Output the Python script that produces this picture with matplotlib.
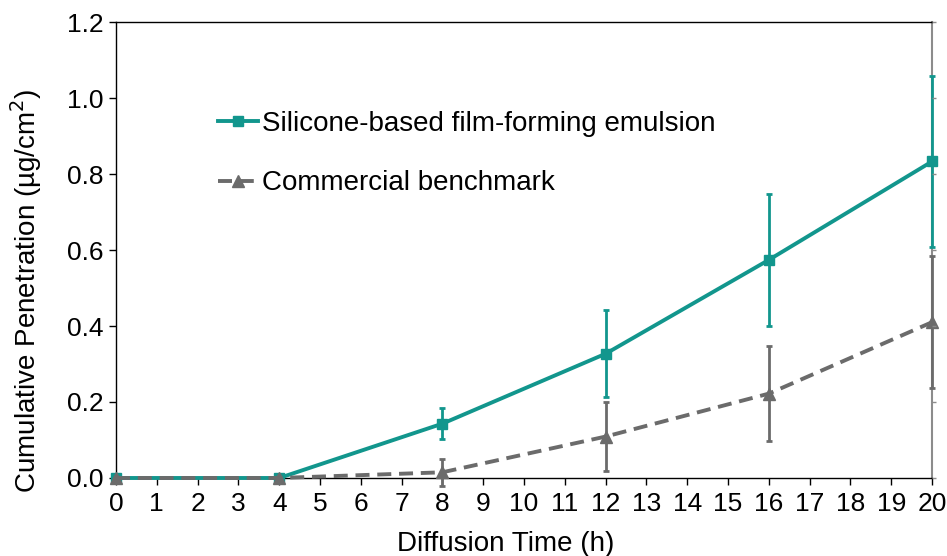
import matplotlib
matplotlib.use("Agg")
import matplotlib.pyplot as plt
from matplotlib.lines import Line2D

plt.rcParams['font.family'] = ['Liberation Sans', 'DejaVu Sans']

# Diffusion time points (h)
time_h = [0, 4, 8, 12, 16, 20]

# Cumulative penetration (µg/cm²) and standard deviations
silicone_mean = [0.0, 0.0, 0.143, 0.327, 0.574, 0.833]
silicone_err = [0.0, 0.0, 0.040, 0.115, 0.174, 0.226]
benchmark_mean = [0.0, 0.0, 0.015, 0.109, 0.222, 0.410]
benchmark_err = [0.0, 0.0, 0.035, 0.090, 0.125, 0.174]

series_labels = ["Silicone-based film-forming emulsion", "Commercial benchmark"]
x_ticks = list(range(0, 21))
y_ticks = [0.0, 0.2, 0.4, 0.6, 0.8, 1.0, 1.2]

teal = "#12968D"
grey = "#6B6B6B"
dash = (0, (3.6, 2.0))

fig = plt.figure(figsize=(9.47, 5.56), dpi=100)
ax = fig.add_axes([0.1225, 0.1403, 0.8617, 0.8201])

ax.errorbar(time_h, silicone_mean, yerr=silicone_err, color=teal, ecolor=teal,
            linestyle="-", linewidth=2.8, marker="s", markersize=7.5,
            elinewidth=2.0, capsize=2.5, capthick=2.0, clip_on=False, zorder=3)
ax.errorbar(time_h, benchmark_mean, yerr=benchmark_err, color=grey, ecolor=grey,
            linestyle=dash, linewidth=2.8, marker="^", markersize=8,
            elinewidth=2.0, capsize=2.5, capthick=2.0, clip_on=False, zorder=4)

ax.set_xlim(0, 20)
ax.set_ylim(0, 1.2)
ax.set_xticks(x_ticks)
ax.set_yticks(y_ticks)
ax.set_yticklabels([f"{v:.1f}" for v in y_ticks])
ax.tick_params(axis="both", labelsize=19, direction="out", length=5, width=1,
               color="black", labelcolor="black")
ax.tick_params(axis="x", pad=5)
ax.tick_params(axis="y", pad=4)

for side in ["left", "bottom", "top"]:
    ax.spines[side].set_color("black")
    ax.spines[side].set_linewidth(1.0)
ax.spines["right"].set_color("#8C8C8C")
ax.spines["right"].set_linewidth(1.5)

# Secondary right axis ticks (no labels)
ax2 = ax.twinx()
ax2.set_ylim(0, 1.2)
ax2.set_yticks(y_ticks)
ax2.set_yticklabels([])
ax2.tick_params(axis="y", direction="out", length=3, width=1, color="#8C8C8C")
for s in ax2.spines.values():
    s.set_visible(False)

ax.set_xlabel("Diffusion Time (h)", fontsize=20)
ax.set_ylabel("Cumulative Penetration (µg/cm$^2$)", fontsize=20)
ax.xaxis.set_label_coords(0.477, -0.116)
ax.yaxis.set_label_coords(-0.088, 0.41)

legend_handles = [
    Line2D([], [], color=teal, linestyle="-", linewidth=2.8, marker="s", markersize=7.5),
    Line2D([], [], color=grey, linestyle=dash, linewidth=2.8, marker="^", markersize=8),
]
ax.legend(legend_handles, series_labels,
          loc="upper left", bbox_to_anchor=(0.125, 0.805), frameon=False,
          fontsize=20, handlelength=1.45, handletextpad=0.15,
          labelspacing=1.2, borderpad=0, borderaxespad=0)

fig.savefig("out.png", dpi=100)
